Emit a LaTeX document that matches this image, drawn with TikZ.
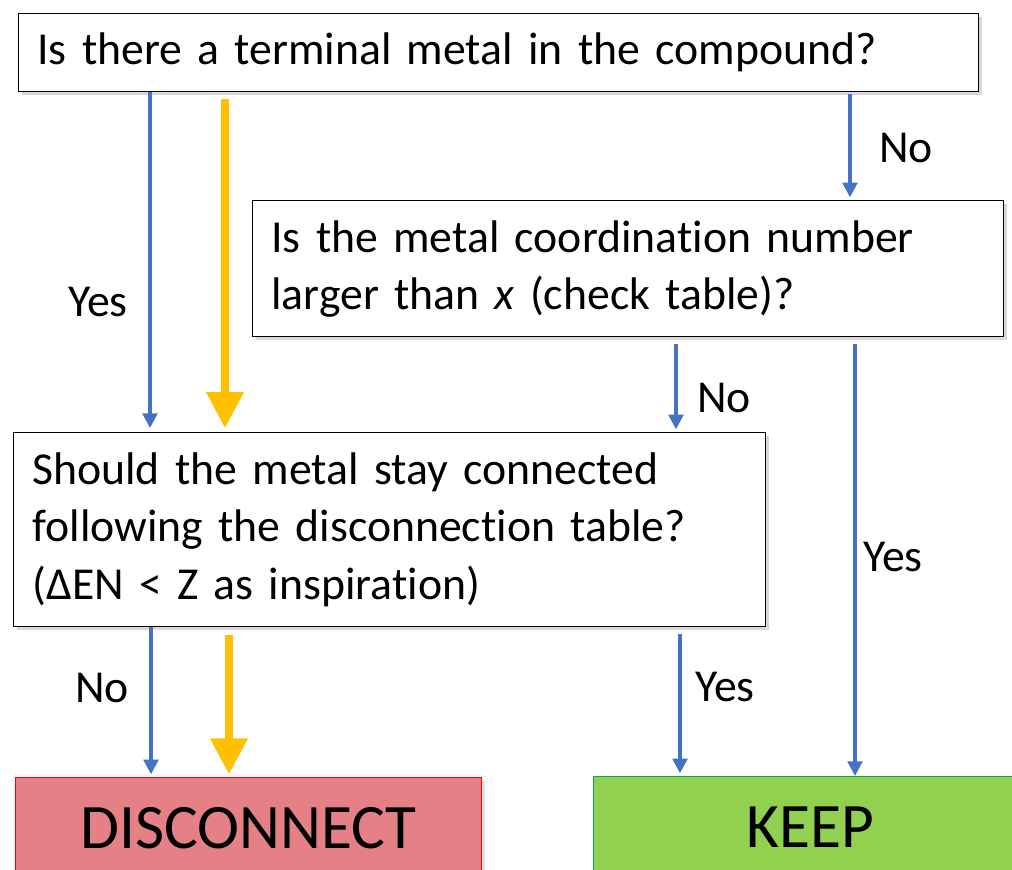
\documentclass[tikz,border=0pt]{standalone}
\usepackage{fontspec}
\setmainfont{Carlito}[Ligatures=NoCommon]
\usetikzlibrary{positioning,shadows,arrows.meta}

\definecolor{flowblue}{HTML}{4472C4}
\definecolor{flowgold}{HTML}{FFC000}
\definecolor{discfill}{HTML}{E58086}
\definecolor{keepfill}{HTML}{92D050}
\definecolor{keepline}{HTML}{00B050}

\begin{document}
\begin{tikzpicture}[
  x=0.75pt,y=-0.75pt,
  question/.style={draw,line width=1.1pt,fill=white,anchor=north west,align=left,
    inner xsep=14pt,font=\fontsize{34.3}{43}\selectfont,
    drop shadow={shadow xshift=2.5pt,shadow yshift=-2.5pt,opacity=0.3}},
  verdict/.style={draw,line width=1pt,anchor=north west,align=center,
    font=\fontsize{47.5}{55}\selectfont,
    drop shadow={shadow xshift=2.5pt,shadow yshift=-2.5pt,opacity=0.25}},
  lbl/.style={font=\fontsize{34.3}{43}\selectfont,inner sep=0pt},
  flow/.style={flowblue,line width=2.4pt,-{Triangle[length=11pt,width=11pt]}},
  main/.style={flowgold,line width=5.5pt,-{Triangle[length=27pt,width=27pt]}}
]
  \useasboundingbox (0,0) rectangle (1012,869);

  % questions
  \node[question,text width=692pt,minimum height=58.5pt] (terminal) at (18,13)
    {Is there a terminal metal in the compound?};
  \node[question,text width=535pt,minimum height=102pt] (coord) at (252,200)
    {Is the metal coordination number\\larger than \textit{x} (check table)?};
  \node[question,text width=536pt,minimum height=145.5pt] (stay) at (13,432)
    {Should the metal stay connected\\following the disconnection table?\\(Δ{}EN < Z as inspiration)};

  % outcomes
  \node[verdict,fill=discfill,draw=red,minimum width=349.5pt,minimum height=75pt] (disc) at (15,777)
    {DISCONNECT};
  \node[verdict,fill=keepfill,draw=keepline,minimum width=325.5pt,minimum height=75pt] (keep) at (593,776)
    {KEEP};

  % arrow columns
  \coordinate (colyes) at (150,0);
  \coordinate (colgold) at (225,0);
  \coordinate (colno) at (850,0);
  \coordinate (colmid) at (676,0);
  \coordinate (colkeep) at (855,0);
  \coordinate (coldisc) at (151,0);
  \coordinate (colgold2) at (229,0);
  \coordinate (colyes2) at (680,0);

  \draw[flow,shorten >=3pt] (colyes |- terminal.south) -- (colyes |- stay.north);
  \draw[main,shorten <=5pt,shorten >=3pt] (colgold |- terminal.south) -- (colgold |- stay.north);
  \draw[flow,shorten <=1pt,shorten >=2pt] (colno |- terminal.south) -- (colno |- coord.north);
  \draw[flow,shorten <=5pt,shorten >=2pt] (colmid |- coord.south) -- (colmid |- stay.north);
  \draw[flow,shorten <=5pt] (colkeep |- coord.south) -- (colkeep |- keep.north);
  \draw[flow,shorten >=2pt] (coldisc |- stay.south) -- (coldisc |- disc.north);
  \draw[main,shorten <=6pt,shorten >=2pt] (colgold2 |- stay.south) -- (colgold2 |- disc.north);
  \draw[flow,shorten <=5pt,shorten >=2pt] (colyes2 |- stay.south) -- (colyes2 |- keep.north);

  % branch labels
  \node[lbl] (yesterm) at (98,302) {Yes};
  \node[lbl] (noterm) at (906,148) {No};
  \node[lbl] (nocoord) at (724,398) {No};
  \node[lbl] (yescoord) at (893,557) {Yes};
  \node[lbl] (nostay) at (102,688) {No};
  \node[lbl] (yesstay) at (725,687) {Yes};
\end{tikzpicture}
\end{document}
